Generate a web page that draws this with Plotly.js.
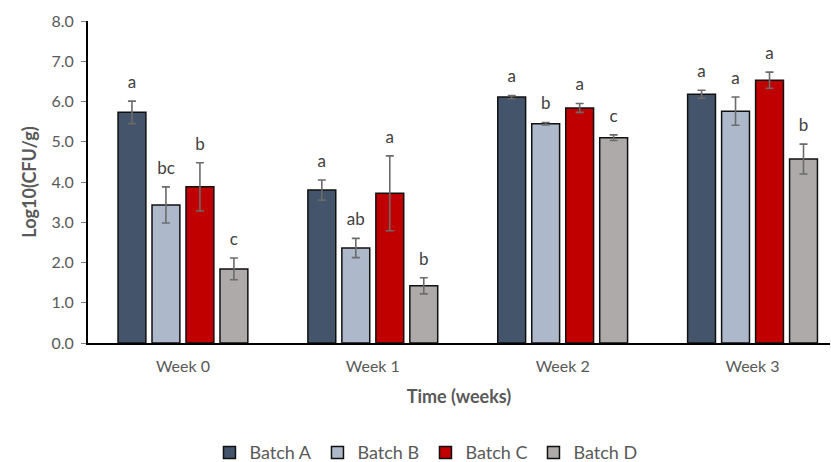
<!DOCTYPE html>
<html>
<head>
<meta charset="utf-8">
<script src="https://cdn.plot.ly/plotly-3.0.1.min.js"></script>
<style>html,body{margin:0;padding:0;background:#fff;}#chart{width:831px;height:462px;}</style>
</head>
<body>
<div id="chart"></div>
<script>
const weeks = ["Week 0", "Week 1", "Week 2", "Week 3"];
const seriesNames = ["Batch A", "Batch B", "Batch C", "Batch D"];
const batchA = [5.73, 3.80, 6.11, 6.18];
const batchB = [3.43, 2.36, 5.45, 5.76];
const batchC = [3.88, 3.72, 5.84, 6.53];
const batchD = [1.84, 1.42, 5.10, 4.57];
const errA = [0.28, 0.25, 0.04, 0.10];
const errB = [0.45, 0.24, 0.03, 0.35];
const errC = [0.60, 0.93, 0.11, 0.20];
const errD = [0.27, 0.20, 0.07, 0.37];
const lettersA = ["a", "a", "a", "a"];
const lettersB = ["bc", "ab", "b", "a"];
const lettersC = ["b", "a", "a", "a"];
const lettersD = ["c", "b", "c", "b"];
const yTickVals = [0, 1, 2, 3, 4, 5, 6, 7, 8];

const colors = ["#44546A", "#ADB9CA", "#C00000", "#AEAAAA"];
const values = [batchA, batchB, batchC, batchD];
const errors = [errA, errB, errC, errD];
const letters = [lettersA, lettersB, lettersC, lettersD];
const FONT = "Lato, 'Open Sans', sans-serif";
const LABEL_PAD = 0.15; // visual gap between error cap and significance letter

const traces = [];
for (let i = 0; i < 4; i++) {
  traces.push({
    type: "bar", name: seriesNames[i], x: weeks, y: values[i],
    offsetgroup: "g" + i,
    marker: {color: colors[i], line: {color: "#111", width: 1.5}},
    error_y: {type: "data", array: errors[i], visible: true, color: "#6b6b6b", thickness: 1.6, width: 4},
    hoverinfo: "y"
  });
}
for (let i = 0; i < 4; i++) {
  traces.push({
    type: "bar", x: weeks, y: values[i].map((v, k) => v + errors[i][k] + LABEL_PAD),
    offsetgroup: "g" + i, showlegend: false, hoverinfo: "skip",
    marker: {color: "rgba(0,0,0,0)", line: {width: 0}},
    text: letters[i], textposition: "outside", cliponaxis: false,
    textfont: {family: FONT, size: 17, color: "#404040"}
  });
}

const layout = {
  width: 831, height: 462,
  margin: {l: 88, r: 1, t: 21, b: 119},
  paper_bgcolor: "#fff", plot_bgcolor: "#fff",
  barmode: "group", bargap: 0.284, bargroupgap: 0.18,
  font: {family: FONT, color: "#595959"},
  showlegend: true,
  legend: {orientation: "h", x: 0.512, xref: "container", xanchor: "center",
           y: 0.02, yref: "container", yanchor: "middle",
           font: {family: FONT, size: 18, color: "#595959"}, itemwidth: 30,
           entrywidth: 63, entrywidthmode: "pixels", traceorder: "normal"},
  xaxis: {
    type: "category", range: [-0.5, 3.408],
    showline: true, linecolor: "#000", linewidth: 2, ticks: "", showgrid: false, zeroline: false,
    tickfont: {family: FONT, size: 16, color: "#595959"}, ticklabelstandoff: 8,
    title: {text: "<b>Time (weeks)</b>", font: {family: FONT, size: 18, color: "#595959"}, standoff: 16}
  },
  yaxis: {
    range: [0, 8], tickvals: yTickVals, tickformat: ".1f",
    showline: true, linecolor: "#000", linewidth: 2, ticks: "outside", ticklen: 5, tickcolor: "#7f7f7f",
    showgrid: false, zeroline: false, ticklabelstandoff: 4,
    tickfont: {family: FONT, size: 16, color: "#595959"},
    title: {text: "<b>Log10(CFU/g)</b>", font: {family: FONT, size: 18, color: "#595959"}, standoff: 10}
  }
};

Plotly.newPlot("chart", traces, layout, {displayModeBar: false, staticPlot: true});
</script>
</body>
</html>
